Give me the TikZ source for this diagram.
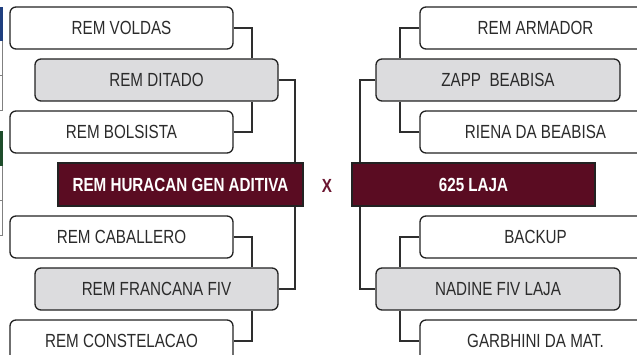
\documentclass[tikz,border=0pt]{standalone}
\usepackage{fontspec}
\setmainfont{Liberation Sans}[FakeStretch=0.8]
\definecolor{maroon}{HTML}{5A0C22}
\definecolor{xmar}{HTML}{6B1530}
\definecolor{greyfill}{HTML}{DCDCDE}
\definecolor{txt}{HTML}{2B2B2B}
\definecolor{edge}{HTML}{222222}
\definecolor{lineclr}{HTML}{2E2E2E}
\definecolor{barblue}{HTML}{1F3F7F}
\definecolor{bargreen}{HTML}{1E4D2B}
\tikzset{
  base/.style={draw=edge, line width=1.3pt, minimum height=42pt, inner sep=0pt,
    font=\fontsize{19}{22}\selectfont, text=txt},
  whitebox/.style={base, fill=white, rounded corners=6pt},
  greybox/.style={base, fill=greyfill, rounded corners=6pt},
  finalbox/.style={base, fill=maroon, text=white, minimum height=43pt,
    font=\fontsize{19}{22}\selectfont\bfseries},
  conn/.style={draw=lineclr, line width=2pt},
}
\begin{document}
\begin{tikzpicture}[x=1pt,y=-1pt]
\useasboundingbox (0,0) rectangle (637,355);
\clip (0,0) rectangle (637,355);
% left edge remnants
\fill[barblue] (0,7) rectangle (2.5,41);
\draw[gray, line width=0.7pt] (2.5,41) -- (2.5,110) (0,75) -- (2.5,75) (0,110) -- (2.5,110);
\fill[bargreen] (0,131) rectangle (2.5,166);
\draw[gray, line width=0.7pt] (2.5,166) -- (2.5,235) (0,200) -- (2.5,200) (0,235) -- (2.5,235);
% connector columns
\coordinate (la) at (252,0);
\coordinate (lb) at (295,0);
\coordinate (ra) at (400,0);
\coordinate (rb) at (360,0);
% left nodes
\node[whitebox, minimum width=223pt] (voldas) at (121.5,28) {REM VOLDAS};
\node[greybox, minimum width=243pt] (ditado) at (156.5,80) {REM DITADO};
\node[whitebox, minimum width=223pt] (bolsista) at (121.5,132) {REM BOLSISTA};
\node[finalbox, minimum width=245pt] (huracan) at (180.5,184.5) {REM HURACAN GEN ADITIVA};
\node[whitebox, minimum width=223pt] (caballero) at (121.5,237) {REM CABALLERO};
\node[greybox, minimum width=243pt] (francana) at (156.5,289) {REM FRANCANA FIV};
\node[whitebox, minimum width=223pt] (constelacao) at (121.5,341) {REM CONSTELACAO};
% right nodes
\node[whitebox, minimum width=231pt] (armador) at (535.5,28) {REM ARMADOR};
\node[greybox, minimum width=244pt] (zapp) at (498,80) {ZAPP\ \ BEABISA};
\node[whitebox, minimum width=231pt] (riena) at (535.5,132) {RIENA DA BEABISA};
\node[finalbox, minimum width=243pt] (laja) at (473.5,184.5) {625 LAJA};
\node[whitebox, minimum width=231pt] (backup) at (535.5,237) {BACKUP};
\node[greybox, minimum width=244pt] (nadine) at (498,289) {NADINE FIV LAJA};
\node[whitebox, minimum width=231pt] (garbhini) at (535.5,341) {GARBHINI DA MAT.};
% vs
\node[text=xmar, font=\fontsize{19}{22}\selectfont\bfseries] (vs) at (327,186) {X};
% left connectors
\draw[conn] (voldas.east) -| (la |- ditado.north);
\draw[conn] (bolsista.east) -| (la |- ditado.south);
\draw[conn] (ditado.east) -| (lb |- huracan.north);
\draw[conn] (lb |- huracan.south) |- (francana.east);
\draw[conn] (caballero.east) -| (la |- francana.north);
\draw[conn] (la |- francana.south) |- (constelacao.east);
% right connectors
\draw[conn] (armador.west) -| (ra |- zapp.north);
\draw[conn] (riena.west) -| (ra |- zapp.south);
\draw[conn] (zapp.west) -| (rb |- laja.north);
\draw[conn] (rb |- laja.south) |- (nadine.west);
\draw[conn] (backup.west) -| (ra |- nadine.north);
\draw[conn] (ra |- nadine.south) |- (garbhini.west);
\end{tikzpicture}
\end{document}
